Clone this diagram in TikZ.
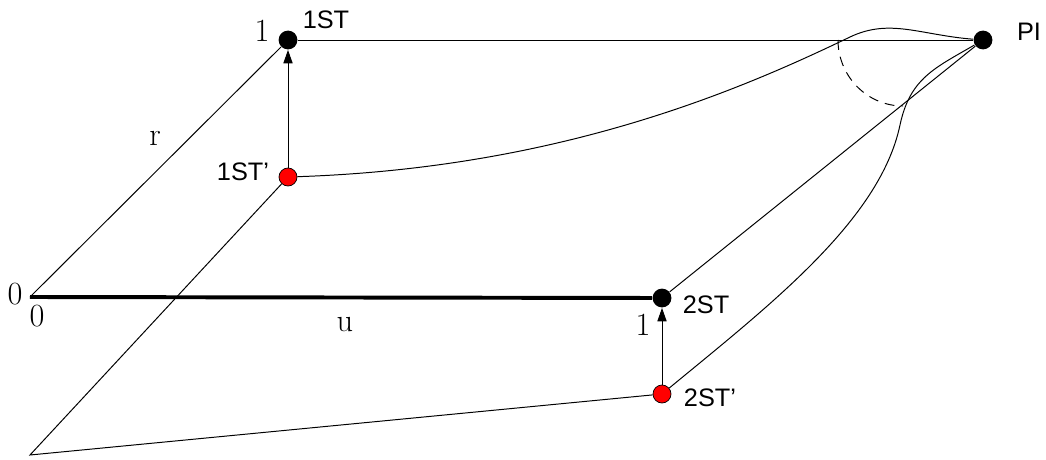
\documentclass[tikz,border=0pt]{standalone}
\usepackage{fontspec}
\setsansfont{Liberation Sans}
\usetikzlibrary{arrows.meta,positioning}

\begin{document}
\begin{tikzpicture}[x=0.025cm, y=-0.025cm, line width=0.7pt,
    stpoint/.style={circle, fill=black, inner sep=0pt, minimum size=0.47cm},
    movedpoint/.style={circle, draw=black, fill=red, inner sep=0pt, minimum size=0.45cm, line width=0.5pt},
    stname/.style={font=\sffamily\fontsize{18}{21}\selectfont, inner sep=1pt},
    axisnum/.style={font=\fontsize{23}{25}\selectfont, inner sep=1pt},
    moveline/.style={-{Triangle[length=9.5pt,width=6.5pt]}}
]
    \useasboundingbox (0,0) rectangle (1046,460);

    \coordinate (O) at (30,297);
    \coordinate (corner) at (30,455);

    \node[stpoint] (st1) at (288,40) {};
    \node[stpoint] (st2) at (662,298) {};
    \node[stpoint] (pi) at (983,40) {};
    \node[movedpoint] (st1m) at (288,177) {};
    \node[movedpoint] (st2m) at (662,394) {};

    % axis numbers and names
    \node[axisnum] (zeroL) at (15,294) {0};
    \node[axisnum] (zeroB) at (37,316) {0};
    \node[axisnum] (oneR) at (262,31) {1};
    \node[axisnum] (oneU) at (643,325) {1};
    \node[axisnum] (rlab) at (155,138) {r};
    \node[axisnum] (ulab) at (345,325) {u};

    \node[stname] (st1lab) at (326,20) {1ST};
    \node[stname] (pilab) at (1029,32) {PI};
    \node[stname] (st1mlab) at (243,172) {1ST'};
    \node[stname] (st2lab) at (706,305) {2ST};
    \node[stname] (st2mlab) at (710,398) {2ST'};

    \draw (O) -- (st1);
    \draw[line width=2.8pt] (O) -- (st2);
    \draw (st1) -- (pi);
    \draw (st2) -- (pi);

    \draw[moveline] (st1m) -- (st1);
    \draw[moveline] (st2m) -- (st2);

    \draw (st1m) -- (corner) -- (st2m);

    % paths of the moved points
    \draw (st1m) .. controls (560,168) and (740,90) .. (850,37)
        .. controls (890,18) and (920,35) .. (pi);
    \draw (st2m) .. controls (770,305) and (880,220) .. (900,125)
        .. controls (910,78) and (935,68) .. (pi);

    \draw[dash pattern=on 7pt off 5pt] (838,40) .. controls (838,76) and (867,106) .. (903,106);
\end{tikzpicture}
\end{document}
